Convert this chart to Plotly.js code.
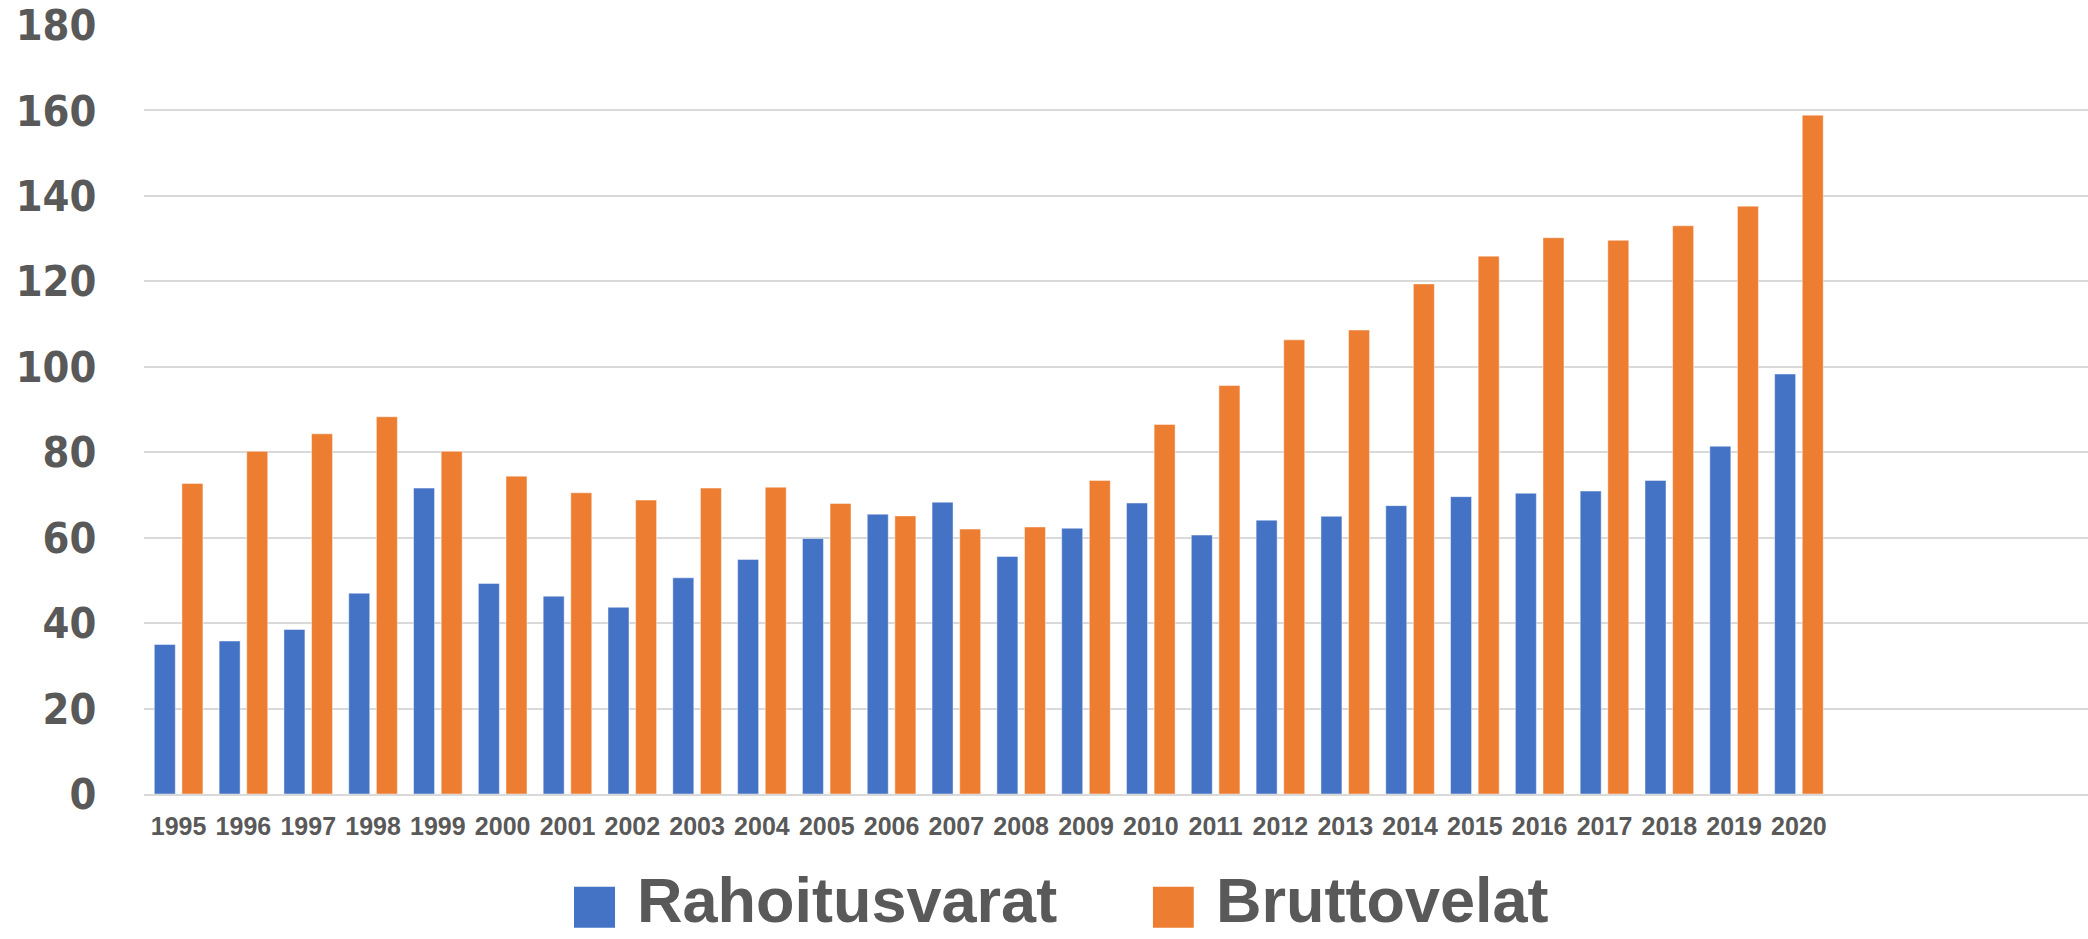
<!DOCTYPE html>
<html>
<head>
<meta charset="utf-8">
<script src="https://cdn.plot.ly/plotly-3.0.1.min.js"></script>
<style>html,body{margin:0;padding:0;background:#fff;}#chart{width:2088px;height:939px;}</style>
</head>
<body>
<div id="chart"></div>
<script>
const years = ["1995","1996","1997","1998","1999","2000","2001","2002","2003","2004","2005","2006","2007","2008","2009","2010","2011","2012","2013","2014","2015","2016","2017","2018","2019","2020"];
const rahoitusvarat = [35.0, 35.8, 38.5, 47.0, 71.6, 49.3, 46.3, 43.7, 50.6, 54.9, 59.8, 65.5, 68.3, 55.6, 62.2, 68.1, 60.6, 64.1, 65.0, 67.5, 69.6, 70.4, 70.9, 73.4, 81.4, 98.3];
const bruttovelat = [72.7, 80.2, 84.3, 88.3, 80.2, 74.4, 70.5, 68.8, 71.6, 71.8, 68.0, 65.1, 62.0, 62.5, 73.4, 86.5, 95.6, 106.3, 108.6, 119.4, 125.9, 130.2, 129.6, 133.0, 137.6, 158.9];
const seriesNames = ["Rahoitusvarat", "Bruttovelat"];
const seriesColors = ["#4472C4", "#ED7D31"];
const yTicks = [0, 20, 40, 60, 80, 100, 120, 140, 160, 180];

const traces = [rahoitusvarat, bruttovelat].map((vals, i) => ({
  type: 'bar',
  name: seriesNames[i],
  x: years,
  y: vals,
  marker: {color: seriesColors[i], line: {color: 'rgba(255,255,255,0.45)', width: 1}},
  hoverinfo: 'x+y+name'
}));

const textColor = '#595959';
const legX = [[0.2212, 0.2423, 0.2526], [0.519, 0.540, 0.5504]];
const shapes = [];
const annotations = [];
seriesNames.forEach((n, i) => {
  shapes.push({type: 'rect', xref: 'paper', yref: 'paper', x0: legX[i][0], x1: legX[i][1], y0: -0.174, y1: -0.1206,
    fillcolor: seriesColors[i], line: {width: 0}});
  annotations.push({xref: 'paper', yref: 'paper', x: legX[i][2], y: -0.1865, xanchor: 'left', yanchor: 'bottom',
    text: n, showarrow: false, font: {family: 'Liberation Sans, Arial, sans-serif', size: 63, color: textColor, weight: 'bold'}});
});

const layout = {
  width: 2088, height: 939,
  margin: {l: 144, r: 0, t: 25, b: 145, pad: 0},
  paper_bgcolor: '#ffffff', plot_bgcolor: '#ffffff',
  showlegend: false,
  barmode: 'group',
  bargap: 0.148,
  bargroupgap: 0.24,
  xaxis: {
    type: 'category',
    range: [-0.534, 29.46],
    showgrid: false,
    showline: true, linecolor: '#D9D9D9', linewidth: 2,
    ticks: 'outside', ticklen: 9, tickcolor: 'rgba(0,0,0,0)',
    tickfont: {family: 'Liberation Sans, Arial, sans-serif', size: 25, color: textColor, weight: 'bold'},
    fixedrange: true
  },
  yaxis: {
    range: [0, 180],
    tickvals: yTicks,
    ticktext: yTicks.map(String),
    showgrid: true, gridcolor: '#D9D9D9', gridwidth: 2,
    zeroline: false,
    showline: false,
    ticks: 'outside', ticklen: 38, tickcolor: 'rgba(0,0,0,0)',
    tickfont: {family: 'DejaVu Sans Condensed, Liberation Sans, sans-serif', size: 43, color: textColor, weight: 'bold'},
    fixedrange: true
  },
  shapes: shapes,
  annotations: annotations
};

Plotly.newPlot('chart', traces, layout, {displayModeBar: false, staticPlot: true});
</script>
</body>
</html>
